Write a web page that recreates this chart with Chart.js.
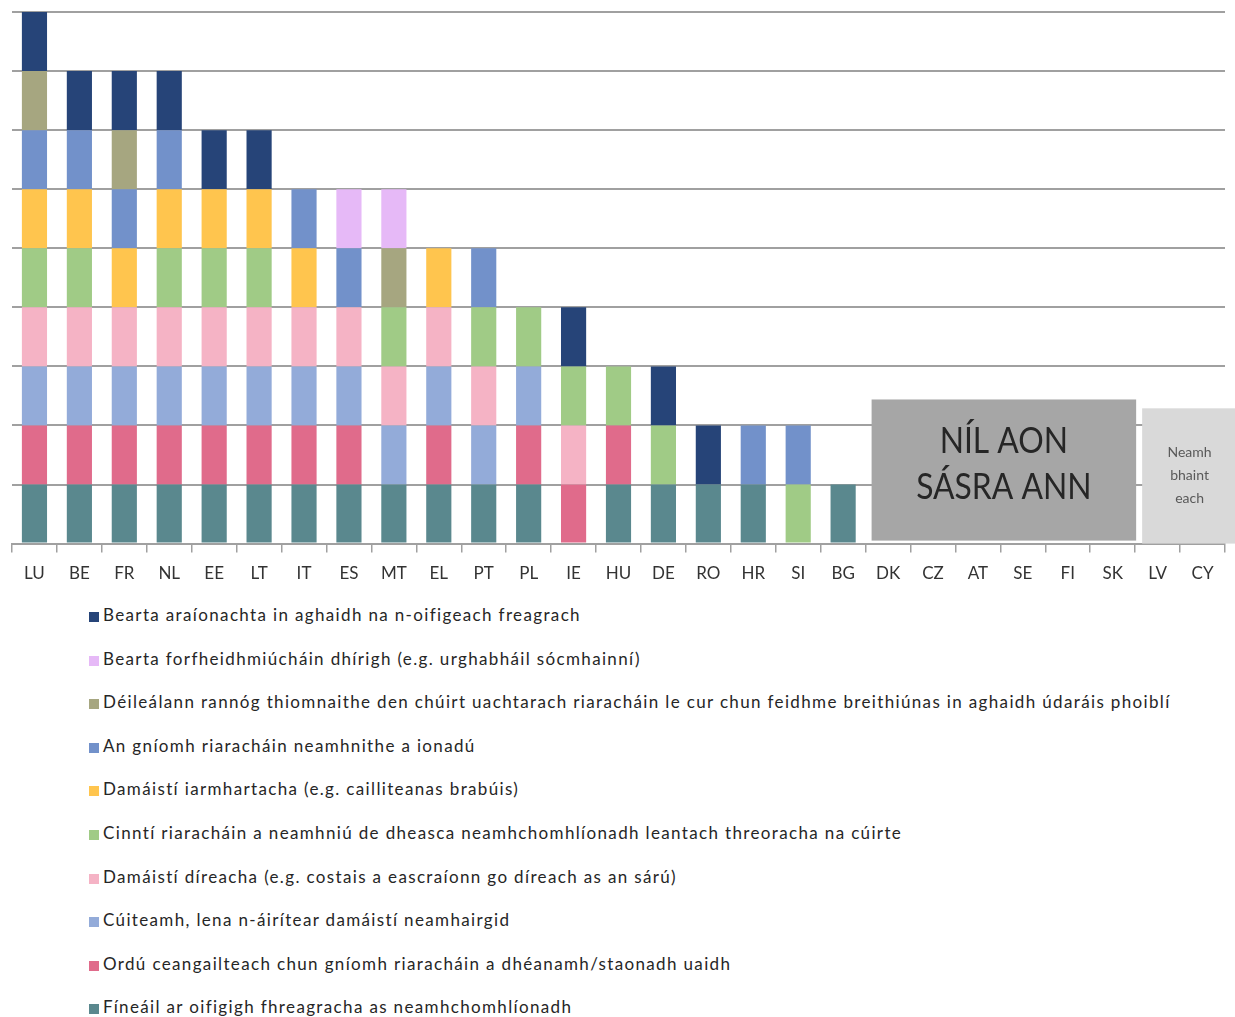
<!DOCTYPE html>
<html>
<head>
<meta charset="utf-8">
<script src="https://cdn.jsdelivr.net/npm/chart.js@4"></script>
<style>
  body { margin: 0; background: #fff; overflow: hidden; font-family: Lato, sans-serif; }
  #chartBox { position: relative; width: 1235px; height: 595px; }
  #legend { list-style: none; margin: -2px 0 0 0; padding: 0 0 0 89px; }
  #legend li { height: 43.6px; line-height: 43.6px; font-size: 17px; letter-spacing: 1.35px; color: #262626; white-space: nowrap; }
  #legend span { display: inline-block; width: 10px; height: 10px; margin-right: 4px; vertical-align: -1px; }
</style>
</head>
<body>
<div id="chartBox"><canvas id="remediesChart"></canvas></div>
<ul id="legend"></ul>
<script>
const countries = ['LU', 'BE', 'FR', 'NL', 'EE', 'LT', 'IT', 'ES', 'MT', 'EL', 'PT', 'PL', 'IE', 'HU', 'DE', 'RO', 'HR', 'SI', 'BG', 'DK', 'CZ', 'AT', 'SE', 'FI', 'SK', 'LV', 'CY'];

// one array per remedy, bottom of the stack first
const fineaail      = [1, 1, 1, 1, 1, 1, 1, 1, 1, 1, 1, 1, 0, 1, 1, 1, 1, 0, 1, 0, 0, 0, 0, 0, 0, 0, 0];
const orduu        = [1, 1, 1, 1, 1, 1, 1, 1, 0, 1, 0, 1, 1, 1, 0, 0, 0, 0, 0, 0, 0, 0, 0, 0, 0, 0, 0];
const cuiteamh     = [1, 1, 1, 1, 1, 1, 1, 1, 1, 1, 1, 1, 0, 0, 0, 0, 0, 0, 0, 0, 0, 0, 0, 0, 0, 0, 0];
const damaistiDir  = [1, 1, 1, 1, 1, 1, 1, 1, 1, 1, 1, 0, 1, 0, 0, 0, 0, 0, 0, 0, 0, 0, 0, 0, 0, 0, 0];
const cinnti       = [1, 1, 0, 1, 1, 1, 0, 0, 1, 0, 1, 1, 1, 1, 1, 0, 0, 1, 0, 0, 0, 0, 0, 0, 0, 0, 0];
const damaistiIarm = [1, 1, 1, 1, 1, 1, 1, 0, 0, 1, 0, 0, 0, 0, 0, 0, 0, 0, 0, 0, 0, 0, 0, 0, 0, 0, 0];
const ionadu       = [1, 1, 1, 1, 0, 0, 1, 1, 0, 0, 1, 0, 0, 0, 0, 0, 1, 1, 0, 0, 0, 0, 0, 0, 0, 0, 0];
const rannog       = [1, 0, 1, 0, 0, 0, 0, 0, 1, 0, 0, 0, 0, 0, 0, 0, 0, 0, 0, 0, 0, 0, 0, 0, 0, 0, 0];
const forfheidhmiu = [0, 0, 0, 0, 0, 0, 0, 1, 1, 0, 0, 0, 0, 0, 0, 0, 0, 0, 0, 0, 0, 0, 0, 0, 0, 0, 0];
const araionacht   = [1, 1, 1, 1, 1, 1, 0, 0, 0, 0, 0, 0, 1, 0, 1, 1, 0, 0, 0, 0, 0, 0, 0, 0, 0, 0, 0];

const series = [
  { label: 'Fíneáil ar oifigigh fhreagracha as neamhchomhlíonadh', data: fineaail, color: '#5A888E' },
  { label: 'Ordú ceangailteach chun gníomh riaracháin a dhéanamh/staonadh uaidh', data: orduu, color: '#E06B8B' },
  { label: 'Cúiteamh, lena n-áirítear damáistí neamhairgid', data: cuiteamh, color: '#93ABD9' },
  { label: 'Damáistí díreacha (e.g. costais a eascraíonn go díreach as an sárú)', data: damaistiDir, color: '#F5B3C5' },
  { label: 'Cinntí riaracháin a neamhniú de dheasca neamhchomhlíonadh leantach threoracha na cúirte', data: cinnti, color: '#A0CB86' },
  { label: 'Damáistí iarmhartacha (e.g. cailliteanas brabúis)', data: damaistiIarm, color: '#FFC54E' },
  { label: 'An gníomh riaracháin neamhnithe a ionadú', data: ionadu, color: '#7291CA' },
  { label: 'Déileálann rannóg thiomnaithe den chúirt uachtarach riaracháin le cur chun feidhme breithiúnas in aghaidh údaráis phoiblí', data: rannog, color: '#A6A680' },
  { label: 'Bearta forfheidhmiúcháin dhírigh (e.g. urghabháil sócmhainní)', data: forfheidhmiu, color: '#E6B9F7' },
  { label: 'Bearta araíonachta in aghaidh na n-oifigeach freagrach', data: araionacht, color: '#264478' }
];

// narrow text: draw squeezed horizontally around its centre
function squeezedText(ctx, text, cx, cy, sx) {
  ctx.save();
  ctx.translate(cx, cy);
  ctx.scale(sx, 1);
  ctx.fillText(text, 0, 0);
  ctx.restore();
}

// grey panels over the countries with no mechanism / not applicable
const noMechanismBoxes = {
  id: 'noMechanismBoxes',
  afterDatasetsDraw(chart) {
    const { ctx, scales: { x, y } } = chart;
    const step = x.width / countries.length;
    const base = y.getPixelForValue(0);

    const l1 = x.left + countries.indexOf('DK') * step + 6;
    const r1 = x.left + (countries.indexOf('SK') + 1) * step + 1;
    const t1 = y.getPixelForValue(2.44);
    ctx.save();
    ctx.fillStyle = '#A6A6A6';
    ctx.fillRect(l1, t1, r1 - l1, base - 3 - t1);
    ctx.fillStyle = '#262626';
    ctx.font = '37px Lato';
    ctx.textAlign = 'center';
    ctx.textBaseline = 'middle';
    squeezedText(ctx, 'NÍL AON', (l1 + r1) / 2, t1 + 42, 0.86);
    squeezedText(ctx, 'SÁSRA ANN', (l1 + r1) / 2, t1 + 88, 0.86);

    const l2 = x.left + countries.indexOf('LV') * step + 7;
    const r2 = chart.width;
    const t2 = y.getPixelForValue(2.29);
    ctx.fillStyle = '#D9D9D9';
    ctx.fillRect(l2, t2, r2 - l2, base - t2);
    ctx.fillStyle = '#595959';
    ctx.font = '14px Lato';
    ctx.fillText('Neamh', (l2 + r2) / 2 + 1, t2 + 44);
    ctx.fillText('bhaint', (l2 + r2) / 2 + 1, t2 + 67);
    ctx.fillText('each', (l2 + r2) / 2 + 1, t2 + 90);
    ctx.restore();
  }
};

const remediesChart = new Chart(document.getElementById('remediesChart').getContext('2d'), {
  type: 'bar',
  data: {
    labels: countries,
    datasets: series.map(s => ({
      label: s.label,
      data: s.data,
      backgroundColor: s.color,
      borderWidth: 0,
      categoryPercentage: 1,
      barPercentage: 0.56
    }))
  },
  options: {
    responsive: true,
    maintainAspectRatio: false,
    animation: false,
    layout: { padding: { top: 12, left: 12, right: 10, bottom: 0 } },
    scales: {
      x: {
        stacked: true,
        grid: { drawOnChartArea: false, color: '#A0A0A0', lineWidth: 1.5, tickLength: 9 },
        border: { display: true, color: '#A0A0A0', width: 2 },
        ticks: { color: '#333333', font: { family: 'Lato', size: 17 }, padding: 11, maxRotation: 0 }
      },
      y: {
        stacked: true,
        min: 0,
        max: 9,
        ticks: { display: false, stepSize: 1 },
        grid: { color: '#A0A0A0', lineWidth: 2, drawTicks: false },
        border: { display: false }
      }
    },
    plugins: {
      legend: { display: false },
      tooltip: { enabled: false }
    }
  },
  plugins: [noMechanismBoxes]
});

// legend lists the top of the stack first
const legendList = document.getElementById('legend');
series.slice().reverse().forEach(s => {
  const li = document.createElement('li');
  const box = document.createElement('span');
  box.style.background = s.color;
  li.appendChild(box);
  li.appendChild(document.createTextNode(s.label));
  legendList.appendChild(li);
});
</script>
</body>
</html>
